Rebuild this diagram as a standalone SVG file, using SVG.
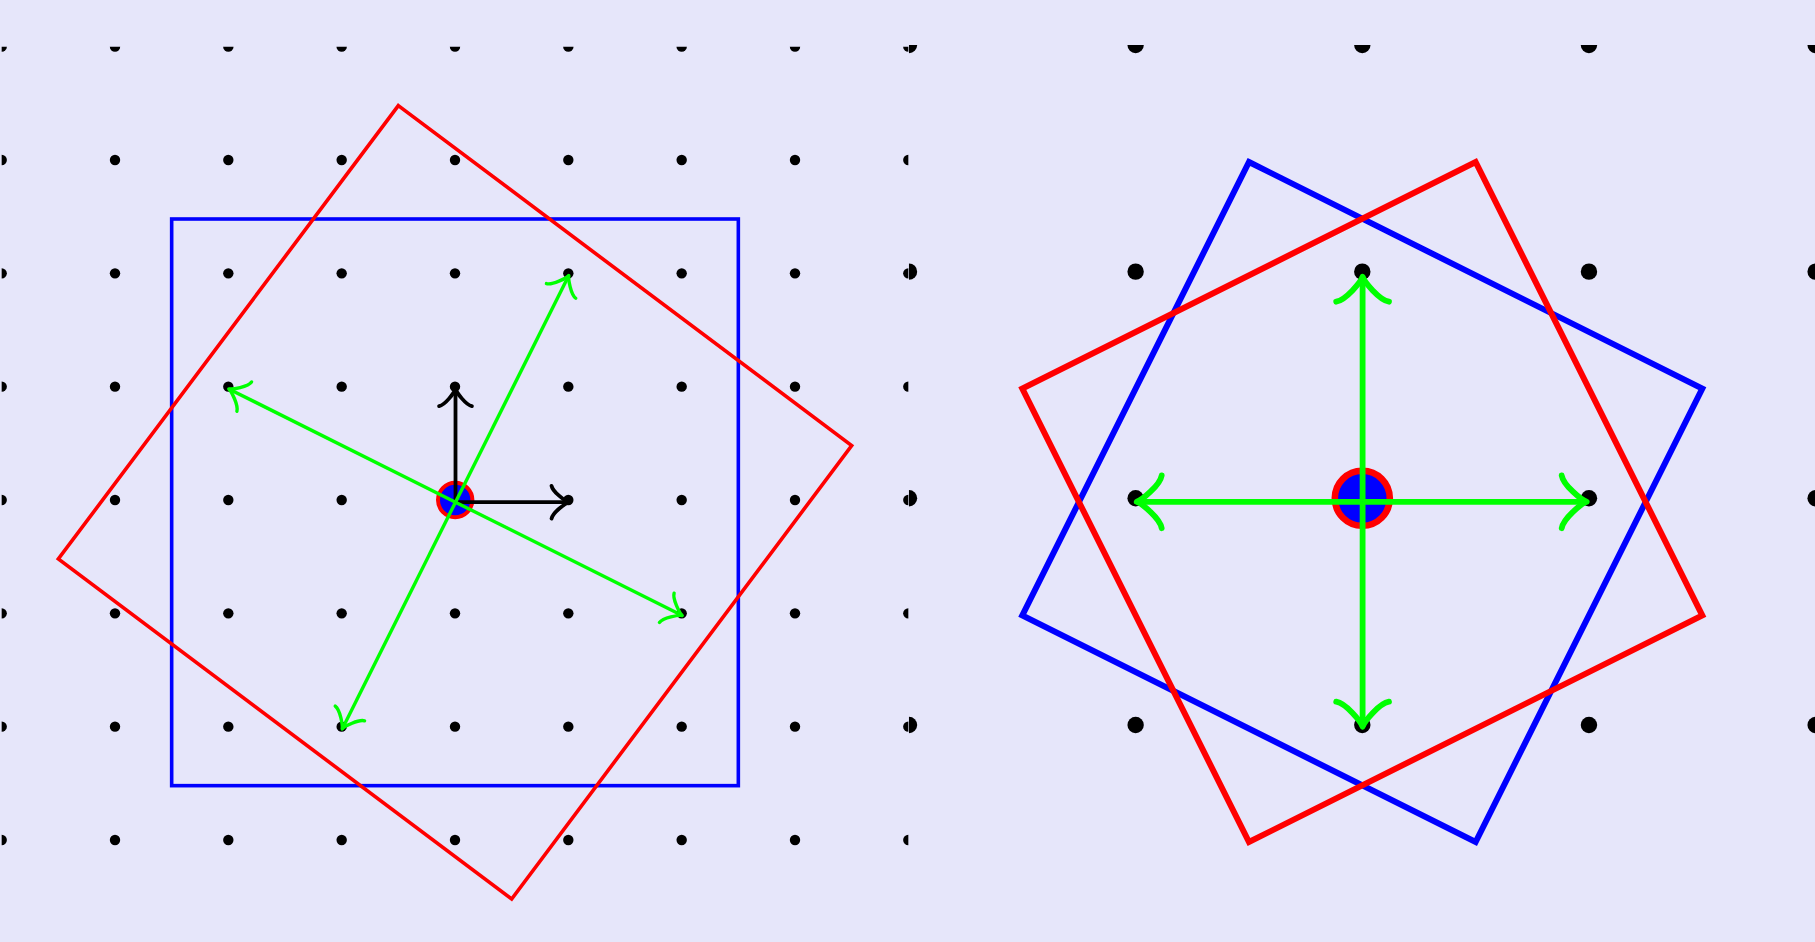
<svg xmlns="http://www.w3.org/2000/svg" xmlns:xlink="http://www.w3.org/1999/xlink" width="1815" height="942" viewBox="0 0 1815 942">
  <defs>
    <style>
      .dotS { fill: #000000; }
      .dotL { fill: #000000; }
      .sq { fill: none; stroke-linejoin: miter; }
      .thinL { stroke-width: 3.6; }
      .thickR { stroke-width: 6; }
      .blue { stroke: #0000ff; }
      .red { stroke: #ff0000; }
      .arrK { stroke: #000000; stroke-width: 3.8; fill: none; }
      .arrG { stroke: #00ff00; stroke-width: 3.4; fill: none; }
      .arrG2 { stroke: #00ff00; stroke-width: 5.8; fill: none; }
    </style>
    <clipPath id="clipL"><rect x="1.67" y="46.67" width="906.66" height="906.66"/></clipPath>
    <clipPath id="clipR"><rect x="908.97" y="44.97" width="906.66" height="906.66"/></clipPath>
    <circle id="ds" r="5.2" class="dotS"/>
    <circle id="dl" r="8.2" class="dotL"/>
    <marker id="headK" markerUnits="userSpaceOnUse" orient="auto" refX="0" refY="0" markerWidth="40" markerHeight="40" overflow="visible">
      <path d="M -17.25,-16.4 C -16.1,-10.25 -3.45,-1 0,0 C -3.45,1 -16.1,10.25 -17.25,16.4" fill="none" stroke="#000000" stroke-width="3.8" stroke-linecap="round" stroke-linejoin="round"/>
    </marker>
    <marker id="headG" markerUnits="userSpaceOnUse" orient="auto" refX="0" refY="0" markerWidth="40" markerHeight="40" overflow="visible">
      <path d="M -17.25,-16.4 C -16.1,-10.25 -3.45,-1 0,0 C -3.45,1 -16.1,10.25 -17.25,16.4" fill="none" stroke="#00ff00" stroke-width="3.4" stroke-linecap="round" stroke-linejoin="round"/>
    </marker>
    <marker id="headG2" markerUnits="userSpaceOnUse" orient="auto" refX="0" refY="0" markerWidth="60" markerHeight="60" overflow="visible">
      <path d="M -25,-26.4 C -23.3,-16.5 -5,-1.65 0,0 C -5,1.65 -23.3,16.5 -25,26.4" fill="none" stroke="#00ff00" stroke-width="5.8" stroke-linecap="round" stroke-linejoin="round"/>
    </marker>
  </defs>

  <rect id="background" x="0" y="0" width="1815" height="942" fill="#e6e6fa"/>

  <!-- LEFT PANEL -->
  <g id="left-panel" clip-path="url(#clipL)">
    <g id="left-grid">
      <use xlink:href="#ds" x="1.67" y="46.67"/><use xlink:href="#ds" x="115" y="46.67"/><use xlink:href="#ds" x="228.33" y="46.67"/><use xlink:href="#ds" x="341.67" y="46.67"/><use xlink:href="#ds" x="455" y="46.67"/><use xlink:href="#ds" x="568.33" y="46.67"/><use xlink:href="#ds" x="681.67" y="46.67"/><use xlink:href="#ds" x="795" y="46.67"/><use xlink:href="#ds" x="908.33" y="46.67"/>
      <use xlink:href="#ds" x="1.67" y="160"/><use xlink:href="#ds" x="115" y="160"/><use xlink:href="#ds" x="228.33" y="160"/><use xlink:href="#ds" x="341.67" y="160"/><use xlink:href="#ds" x="455" y="160"/><use xlink:href="#ds" x="568.33" y="160"/><use xlink:href="#ds" x="681.67" y="160"/><use xlink:href="#ds" x="795" y="160"/><use xlink:href="#ds" x="908.33" y="160"/>
      <use xlink:href="#ds" x="1.67" y="273.33"/><use xlink:href="#ds" x="115" y="273.33"/><use xlink:href="#ds" x="228.33" y="273.33"/><use xlink:href="#ds" x="341.67" y="273.33"/><use xlink:href="#ds" x="455" y="273.33"/><use xlink:href="#ds" x="568.33" y="273.33"/><use xlink:href="#ds" x="681.67" y="273.33"/><use xlink:href="#ds" x="795" y="273.33"/><use xlink:href="#ds" x="908.33" y="273.33"/>
      <use xlink:href="#ds" x="1.67" y="386.67"/><use xlink:href="#ds" x="115" y="386.67"/><use xlink:href="#ds" x="228.33" y="386.67"/><use xlink:href="#ds" x="341.67" y="386.67"/><use xlink:href="#ds" x="455" y="386.67"/><use xlink:href="#ds" x="568.33" y="386.67"/><use xlink:href="#ds" x="681.67" y="386.67"/><use xlink:href="#ds" x="795" y="386.67"/><use xlink:href="#ds" x="908.33" y="386.67"/>
      <use xlink:href="#ds" x="1.67" y="500"/><use xlink:href="#ds" x="115" y="500"/><use xlink:href="#ds" x="228.33" y="500"/><use xlink:href="#ds" x="341.67" y="500"/><use xlink:href="#ds" x="455" y="500"/><use xlink:href="#ds" x="568.33" y="500"/><use xlink:href="#ds" x="681.67" y="500"/><use xlink:href="#ds" x="795" y="500"/><use xlink:href="#ds" x="908.33" y="500"/>
      <use xlink:href="#ds" x="1.67" y="613.33"/><use xlink:href="#ds" x="115" y="613.33"/><use xlink:href="#ds" x="228.33" y="613.33"/><use xlink:href="#ds" x="341.67" y="613.33"/><use xlink:href="#ds" x="455" y="613.33"/><use xlink:href="#ds" x="568.33" y="613.33"/><use xlink:href="#ds" x="681.67" y="613.33"/><use xlink:href="#ds" x="795" y="613.33"/><use xlink:href="#ds" x="908.33" y="613.33"/>
      <use xlink:href="#ds" x="1.67" y="726.67"/><use xlink:href="#ds" x="115" y="726.67"/><use xlink:href="#ds" x="228.33" y="726.67"/><use xlink:href="#ds" x="341.67" y="726.67"/><use xlink:href="#ds" x="455" y="726.67"/><use xlink:href="#ds" x="568.33" y="726.67"/><use xlink:href="#ds" x="681.67" y="726.67"/><use xlink:href="#ds" x="795" y="726.67"/><use xlink:href="#ds" x="908.33" y="726.67"/>
      <use xlink:href="#ds" x="1.67" y="840"/><use xlink:href="#ds" x="115" y="840"/><use xlink:href="#ds" x="228.33" y="840"/><use xlink:href="#ds" x="341.67" y="840"/><use xlink:href="#ds" x="455" y="840"/><use xlink:href="#ds" x="568.33" y="840"/><use xlink:href="#ds" x="681.67" y="840"/><use xlink:href="#ds" x="795" y="840"/><use xlink:href="#ds" x="908.33" y="840"/>
    </g>
    <g id="left-blue-square">
      <rect class="sq blue thinL" x="171.67" y="219" width="566.66" height="566.66"/>
    </g>
    <g id="left-red-square">
      <polygon class="sq red thinL" points="398.33,105.6 851.67,445.6 511.67,899 58.33,559"/>
    </g>
    <g id="left-center">
      <circle cx="455.2" cy="500" r="17.2" fill="#0000ff" stroke="#ff0000" stroke-width="4"/>
    </g>
    <g id="left-connectors">
      <line class="arrK" x1="455.5" y1="502.2" x2="568.8" y2="502.2" marker-end="url(#headK)"/>
      <line class="arrK" x1="455.5" y1="502.2" x2="455.5" y2="388.9" marker-end="url(#headK)"/>
      <line class="arrG" x1="455.5" y1="502.2" x2="568.8" y2="275.5" marker-end="url(#headG)"/>
      <line class="arrG" x1="455.5" y1="502.2" x2="228.8" y2="388.9" marker-end="url(#headG)"/>
      <line class="arrG" x1="455.5" y1="502.2" x2="682.2" y2="615.5" marker-end="url(#headG)"/>
      <line class="arrG" x1="455.5" y1="502.2" x2="342.2" y2="728.9" marker-end="url(#headG)"/>
    </g>
  </g>

  <!-- RIGHT PANEL -->
  <g id="right-panel" clip-path="url(#clipR)">
    <g id="right-grid">
      <use xlink:href="#dl" x="908.97" y="44.97"/><use xlink:href="#dl" x="1135.63" y="44.97"/><use xlink:href="#dl" x="1362.3" y="44.97"/><use xlink:href="#dl" x="1588.97" y="44.97"/><use xlink:href="#dl" x="1815.63" y="44.97"/>
      <use xlink:href="#dl" x="908.97" y="271.63"/><use xlink:href="#dl" x="1135.63" y="271.63"/><use xlink:href="#dl" x="1362.3" y="271.63"/><use xlink:href="#dl" x="1588.97" y="271.63"/><use xlink:href="#dl" x="1815.63" y="271.63"/>
      <use xlink:href="#dl" x="908.97" y="498.3"/><use xlink:href="#dl" x="1135.63" y="498.3"/><use xlink:href="#dl" x="1362.3" y="498.3"/><use xlink:href="#dl" x="1588.97" y="498.3"/><use xlink:href="#dl" x="1815.63" y="498.3"/>
      <use xlink:href="#dl" x="908.97" y="724.97"/><use xlink:href="#dl" x="1135.63" y="724.97"/><use xlink:href="#dl" x="1362.3" y="724.97"/><use xlink:href="#dl" x="1588.97" y="724.97"/><use xlink:href="#dl" x="1815.63" y="724.97"/>
    </g>
    <g id="right-blue-square">
      <polygon class="sq blue thickR" points="1248.97,162 1702.3,388.67 1475.63,842 1022.3,615.33"/>
    </g>
    <g id="right-red-square">
      <polygon class="sq red thickR" points="1475.63,162 1702.3,615.33 1248.97,842 1022.3,388.67"/>
    </g>
    <g id="right-center">
      <circle cx="1362.3" cy="498.3" r="27.5" fill="#0000ff" stroke="#ff0000" stroke-width="6.6"/>
    </g>
    <g id="right-connectors">
      <line class="arrG2" x1="1362.6" y1="501.8" x2="1586.7" y2="501.8" marker-end="url(#headG2)"/>
      <line class="arrG2" x1="1362.6" y1="501.8" x2="1136.7" y2="501.8" marker-end="url(#headG2)"/>
      <line class="arrG2" x1="1362.6" y1="501.8" x2="1362.6" y2="276.7" marker-end="url(#headG2)"/>
      <line class="arrG2" x1="1362.6" y1="501.8" x2="1362.6" y2="726.7" marker-end="url(#headG2)"/>
    </g>
  </g>
</svg>
